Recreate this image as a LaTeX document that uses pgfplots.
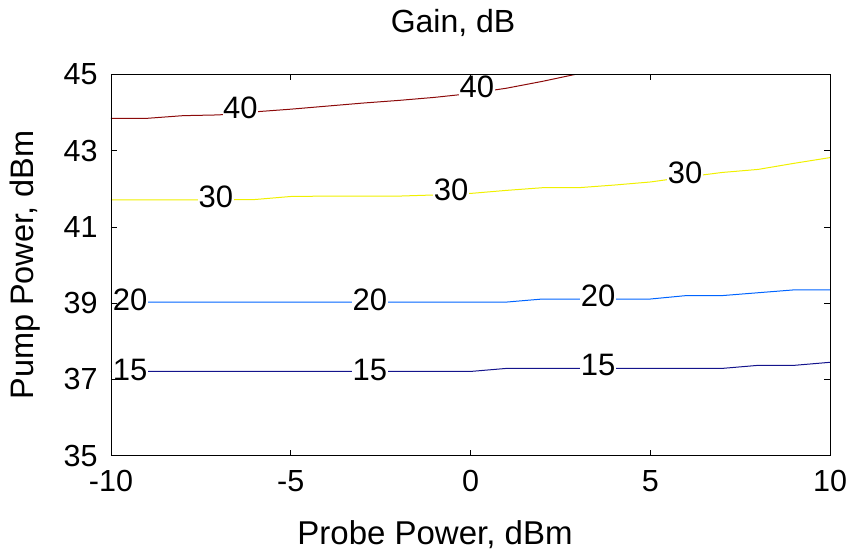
\documentclass[border=0pt]{standalone}
\usepackage{fontspec}
\setmainfont{Liberation Sans}
\usepackage{pgfplots}
\pgfplotsset{compat=1.18}
\usetikzlibrary{calc}
\definecolor{c40}{RGB}{140,10,10}
\definecolor{c30}{RGB}{240,240,0}
\definecolor{c20}{RGB}{0,100,255}
\definecolor{c15}{RGB}{20,20,140}
\begin{document}
\begin{tikzpicture}
\useasboundingbox (-111bp,-97.3bp) rectangle (736bp,455.7bp);
\begin{axis}[
  at={(0,0)}, anchor=south west,
  scale only axis, width=719bp, height=381.2bp,
  xmin=-10, xmax=10, ymin=35, ymax=45,
  xtick={-10,-5,0,5,10}, ytick={35,37,39,41,43,45},
  tick align=inside, major tick length=6bp,
  axis line style={line width=0.8bp},
  every tick/.style={black, line width=0.6bp},
  axis on top,
  /pgf/number format/assume math mode=true,
  ticklabel style={font=\fontsize{30.5bp}{34bp}\selectfont},
  yticklabel style={xshift=-10bp},
  xticklabel style={yshift=-11bp},
  title={Gain, dB},
  title style={at={($(rel axis cs:0.4757,1)+(0,46bp)$)}, anchor=center, font=\fontsize{32bp}{36bp}\selectfont},
  xlabel={Probe Power, dBm},
  xlabel style={at={($(rel axis cs:0.4506,0)+(0,-79bp)$)}, anchor=center, inner sep=0pt, font=\fontsize{33bp}{37bp}\selectfont},
  ylabel={Pump Power, dBm},
  ylabel style={at={($(rel axis cs:0,0.5)+(-86bp,0)$)}, anchor=center, inner sep=0pt, font=\fontsize{32.5bp}{36bp}\selectfont},
]
\addplot[c40, line width=1bp] coordinates {
(-10,43.85) (-9,43.85) (-8,43.92) (-7,43.94) (-6,44.02) (-5,44.09) (-4,44.17)
(-3,44.25) (-2,44.32) (-1,44.40) (0,44.50) (1,44.64) (2,44.82) (3,45.02)};
\addplot[c30, line width=1bp] coordinates {
(-10,41.71) (-9,41.71) (-8,41.71) (-7,41.71) (-6,41.72) (-5,41.80) (-4,41.81)
(-3,41.81) (-2,41.81) (-1,41.84) (0,41.88) (1,41.96) (2,42.03) (3,42.03)
(4,42.10) (5,42.18) (6,42.31) (7,42.43) (8,42.51) (9,42.67) (10,42.82)};
\addplot[c20, line width=1bp] coordinates {
(-10,39.03) (-9,39.03) (-8,39.03) (-7,39.03) (-6,39.03) (-5,39.03) (-4,39.03)
(-3,39.03) (-2,39.03) (-1,39.03) (0,39.03) (1,39.03) (2,39.11) (3,39.11)
(4,39.11) (5,39.11) (6,39.20) (7,39.20) (8,39.275) (9,39.35) (10,39.35)};
\addplot[c15, line width=1bp] coordinates {
(-10,37.21) (-9,37.21) (-8,37.21) (-7,37.21) (-6,37.21) (-5,37.21) (-4,37.21)
(-3,37.21) (-2,37.21) (-1,37.21) (0,37.21) (1,37.29) (2,37.29) (3,37.29)
(4,37.29) (5,37.29) (6,37.29) (7,37.29) (8,37.37) (9,37.37) (10,37.45)};
\begin{scope}[every node/.style={fill=white, inner sep=0.5bp, font=\fontsize{31bp}{34bp}\selectfont}]
\node at (axis cs:-6.40,44.12) {40};
\node at (axis cs:0.18,44.67) {40};
\node at (axis cs:-7.08,41.79) {30};
\node at (axis cs:-0.54,41.97) {30};
\node at (axis cs:5.97,42.41) {30};
\node at (axis cs:-9.47,39.09) {20};
\node at (axis cs:-2.80,39.09) {20};
\node at (axis cs:3.55,39.19) {20};
\node at (axis cs:-9.47,37.25) {15};
\node at (axis cs:-2.80,37.25) {15};
\node at (axis cs:3.55,37.37) {15};
\end{scope}
\end{axis}
\end{tikzpicture}
\end{document}
